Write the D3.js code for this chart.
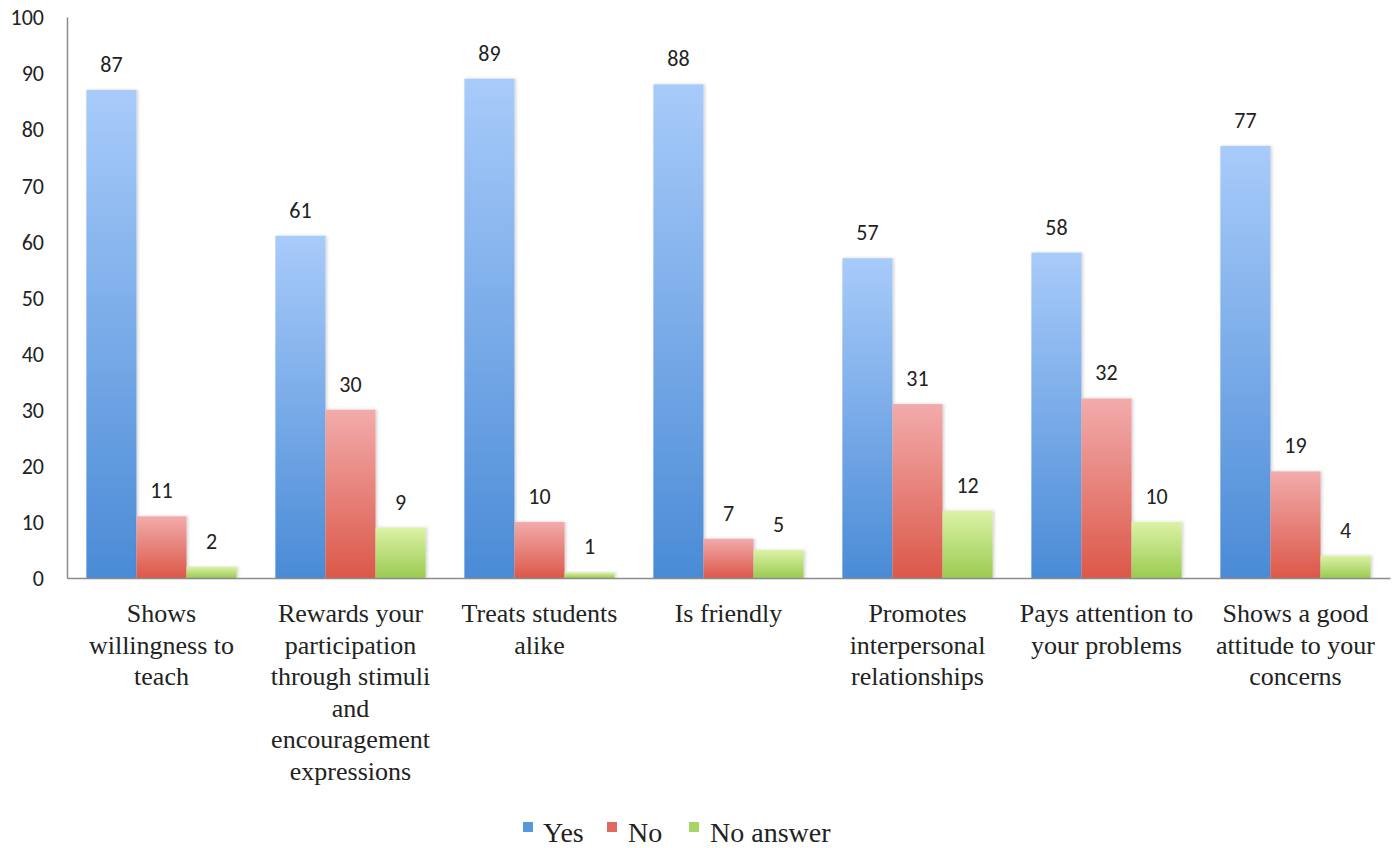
<!DOCTYPE html>
<html><head><meta charset="utf-8">
<script src="https://cdn.jsdelivr.net/npm/d3@7"></script>
<style>
body{margin:0;background:#fff}
svg{font-family:"Liberation Serif", serif}
text.ser, text.ser tspan{font-family:"Liberation Serif", serif !important}
text.num{font-family:"Carlito", "Lato", sans-serif !important}
</style>
</head><body>
<svg id="c" width="1399" height="848"></svg>
<script>
const categories = [
  ["Shows","willingness to","teach"],
  ["Rewards your","participation","through stimuli","and","encouragement","expressions"],
  ["Treats students","alike"],
  ["Is friendly"],
  ["Promotes","interpersonal","relationships"],
  ["Pays attention to","your problems"],
  ["Shows a good","attitude to your","concerns"]
];
const seriesNames = ["Yes","No","No answer"];
const yesVals = [87,61,89,88,57,58,77];
const noVals = [11,30,10,7,31,32,19];
const naVals = [2,9,1,5,12,10,4];
const yTicks = [0,10,20,30,40,50,60,70,80,90,100];

const series = [yesVals,noVals,naVals];
const grads = [["#a8cbfa","#4a8bd6"],["#f2abab","#dc5849"],["#dcf2a6","#9bcb52"]];
const legendCols = ["#5a96dc","#e06a60","#a8d468"];

const svg = d3.select("#c");
const x0 = 67, x1 = 1390, yTop = 17, yBot = 578;
const x = d3.scaleBand().domain(d3.range(categories.length)).range([x0,x1]).paddingInner(0.205).paddingOuter(0.1025);
const xs = d3.scaleBand().domain(d3.range(3)).range([0,x.bandwidth()]);
const y = d3.scaleLinear().domain([0,100]).range([yBot,yTop]);

const defs = svg.append("defs");
grads.forEach((g,i)=>{
  const lg = defs.append("linearGradient").attr("id","g"+i).attr("x1",0).attr("y1",0).attr("x2",0).attr("y2",1);
  lg.append("stop").attr("offset","0%").attr("stop-color",g[0]);
  lg.append("stop").attr("offset","100%").attr("stop-color",g[1]);
});
const f = defs.append("filter").attr("id","sh").attr("x","-10%").attr("y","-10%").attr("width","130%").attr("height","120%");
f.append("feDropShadow").attr("dx",1.5).attr("dy",0).attr("stdDeviation",1.5).attr("flood-color","#000").attr("flood-opacity",0.18);

// axes
const ya = svg.append("g").attr("transform",`translate(${x0},0)`)
  .call(d3.axisLeft(y).tickValues(yTicks).tickSize(0).tickPadding(23));
ya.attr("font-family",null).attr("font-size",null);
ya.select(".domain").attr("stroke","#8c8c8c").attr("stroke-width",1.5);
ya.selectAll("text").attr("class","num").style("font-size","22px").attr("fill","#222").attr("dy","0.35em");

// bars
series.forEach((vals,si)=>{
  svg.append("g").selectAll("rect").data(vals).join("rect")
    .attr("x",(d,i)=>x(i)+xs(si))
    .attr("y",d=>y(d))
    .attr("width",xs.bandwidth())
    .attr("height",d=>y(0)-y(d))
    .attr("fill",`url(#g${si})`)
    .attr("filter","url(#sh)");
  svg.append("g").selectAll("text").data(vals).join("text")
    .attr("class","num")
    .attr("x",(d,i)=>x(i)+xs(si)+xs.bandwidth()/2)
    .attr("y",d=>y(d)-18)
    .attr("text-anchor","middle")
    .style("font-size","22px").attr("fill","#222")
    .text(d=>d);
});

const xa = svg.append("g").attr("transform",`translate(0,${yBot})`)
  .call(d3.axisBottom(x).tickSize(0).tickFormat(""));
xa.attr("font-family",null);
xa.select(".domain").attr("stroke","#8c8c8c").attr("stroke-width",1.5);

// category labels
const cl = svg.append("g");
categories.forEach((lines,i)=>{
  const t = cl.append("text").attr("class","ser").attr("text-anchor","middle")
    .style("font-size","26px").attr("fill","#222");
  lines.forEach((ln,j)=>{
    t.append("tspan").attr("x",x(i)+x.bandwidth()/2).attr("y",622+j*31.6).text(ln);
  });
});

// legend
const lg = svg.append("g");
const items = [{sx:523,tx:543},{sx:607,tx:628},{sx:689,tx:710}];
items.forEach((it,i)=>{
  lg.append("rect").attr("x",it.sx).attr("y",822).attr("width",10).attr("height",10).attr("fill",legendCols[i]);
  lg.append("text").attr("class","ser").attr("x",it.tx).attr("y",842)
    .style("font-size","28px").attr("fill","#222").text(seriesNames[i]);
});
</script>
</body></html>
